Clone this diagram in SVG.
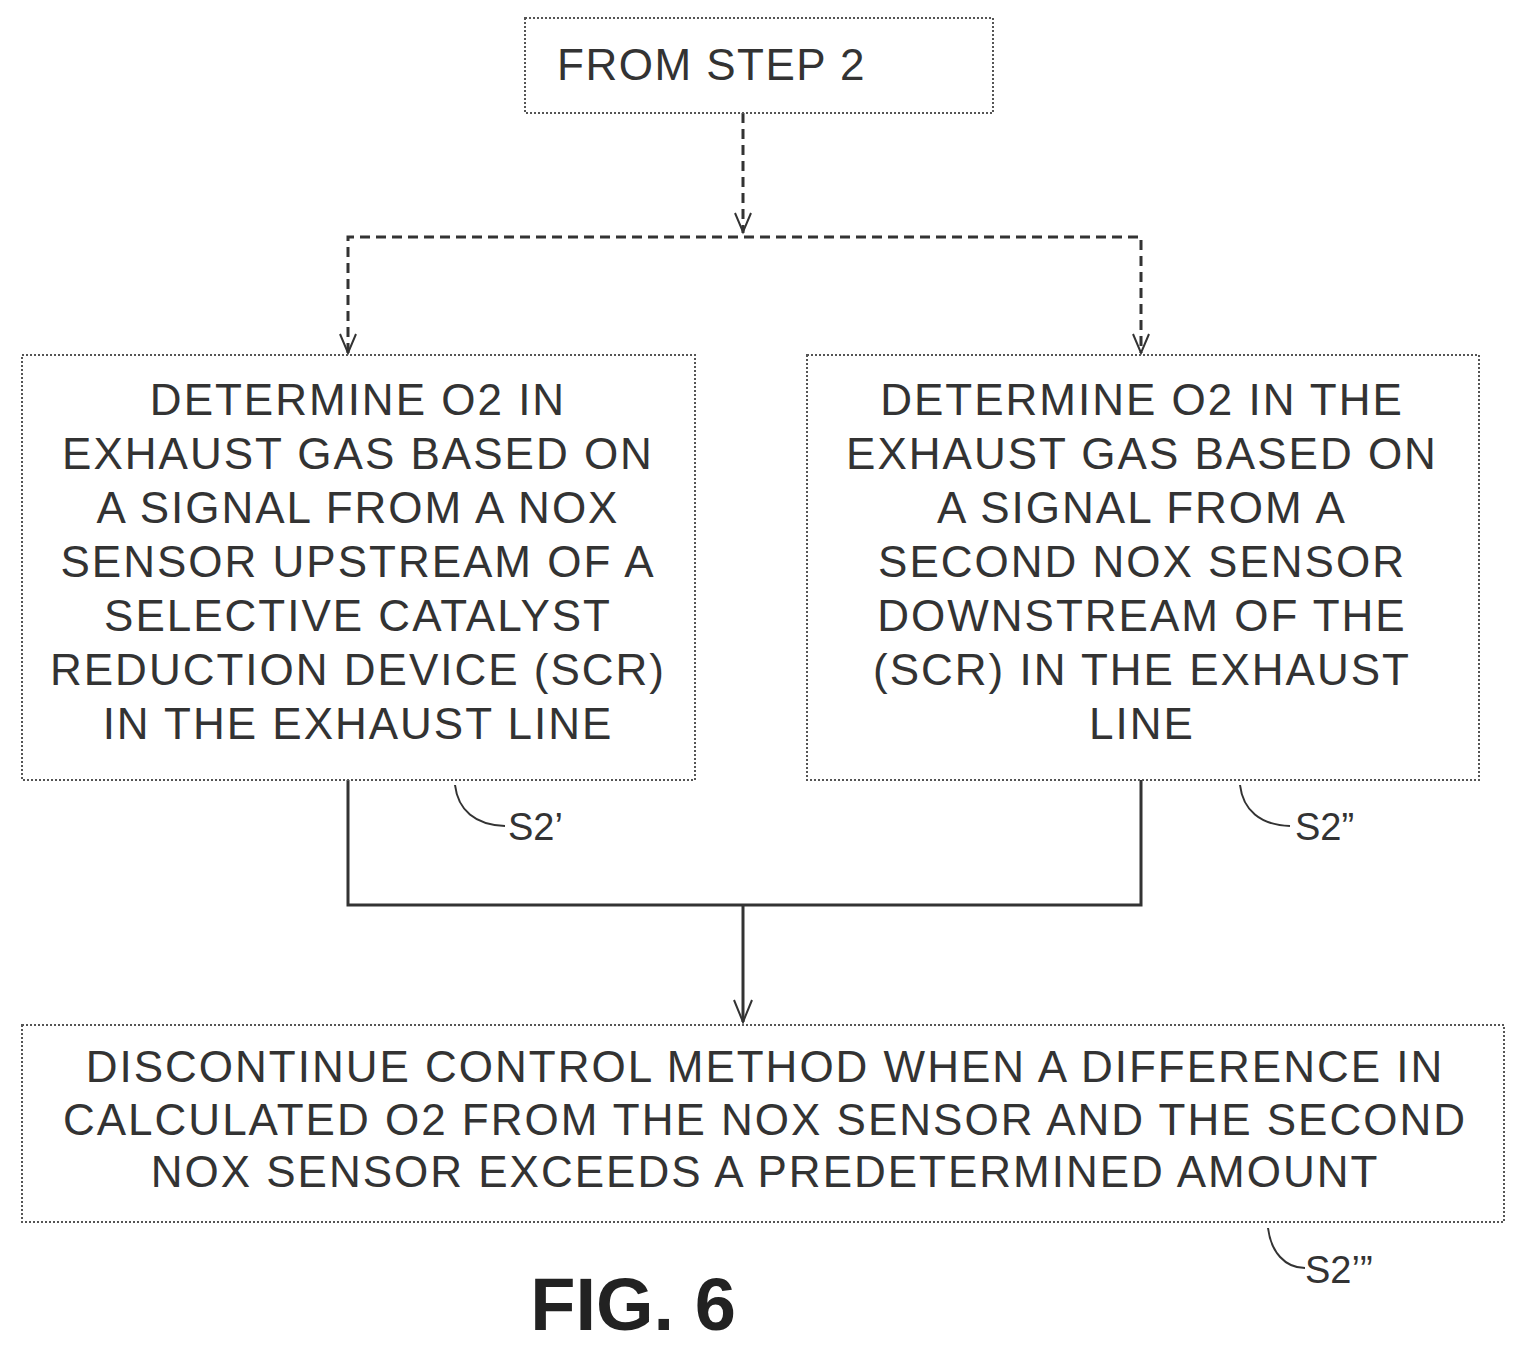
<svg xmlns="http://www.w3.org/2000/svg" width="1527" height="1358" viewBox="0 0 1527 1358">
<style>
.box{fill:#fff;stroke:#555;stroke-width:2;stroke-dasharray:2 2}
.t{font-family:"Liberation Sans",Arial,sans-serif;font-size:44px;fill:#333;text-anchor:middle;letter-spacing:2px}
.d{fill:none;stroke:#333;stroke-width:3;stroke-dasharray:10 6}
.s{fill:none;stroke:#333;stroke-width:3}
.l{fill:none;stroke:#333;stroke-width:2}
.lab{font-family:"Liberation Sans",Arial,sans-serif;font-size:38px;fill:#333}
</style>
<g id="connectors">
<path class="d" d="M743,113 V233"/>
<path d="M735,213 L743,232 L751,213" class="l"/>
<path class="d" d="M348,353 V237 H1141 V353"/>
<path d="M340,334 L348,353 L356,334" class="l"/>
<path d="M1133,334 L1141,353 L1149,334" class="l"/>
<path class="s" d="M348,780 V905 H1141 V780"/>
<path class="s" d="M743,905 V1022"/>
<path d="M734,1000 L743,1022 L752,1000" class="l"/>
</g>
<g id="n1"><rect class="box" x="525" y="18" width="468" height="95"/><text class="t" x="557" y="80" style="text-anchor:start;letter-spacing:1.5px">FROM STEP 2</text></g>
<g id="n2"><rect class="box" x="22" y="355" width="673" height="425"/>
<text class="t" x="358" y="415">DETERMINE O2 IN</text>
<text class="t" x="358" y="469">EXHAUST GAS BASED ON</text>
<text class="t" x="358" y="523">A SIGNAL FROM A NOX</text>
<text class="t" x="358" y="577">SENSOR UPSTREAM OF A</text>
<text class="t" x="358" y="631">SELECTIVE CATALYST</text>
<text class="t" x="358" y="685">REDUCTION DEVICE (SCR)</text>
<text class="t" x="358" y="739">IN THE EXHAUST LINE</text>
</g>
<g id="n3"><rect class="box" x="807" y="355" width="672" height="425"/>
<text class="t" x="1142" y="415">DETERMINE O2 IN THE</text>
<text class="t" x="1142" y="469">EXHAUST GAS BASED ON</text>
<text class="t" x="1142" y="523">A SIGNAL FROM A</text>
<text class="t" x="1142" y="577">SECOND NOX SENSOR</text>
<text class="t" x="1142" y="631">DOWNSTREAM OF THE</text>
<text class="t" x="1142" y="685">(SCR) IN THE EXHAUST</text>
<text class="t" x="1142" y="739">LINE</text>
</g>
<g id="n4"><rect class="box" x="22" y="1025" width="1482" height="197"/>
<text class="t" x="765" y="1082">DISCONTINUE CONTROL METHOD WHEN A DIFFERENCE IN</text>
<text class="t" x="765" y="1135">CALCULATED O2 FROM THE NOX SENSOR AND THE SECOND</text>
<text class="t" x="765" y="1187">NOX SENSOR EXCEEDS A PREDETERMINED AMOUNT</text>
</g>
<g id="labels">
<path class="l" d="M455,785 C458,810 475,825 505,826"/>
<text class="lab" x="508" y="840">S2’</text>
<path class="l" d="M1240,785 C1243,810 1260,825 1290,826"/>
<text class="lab" x="1295" y="840">S2”</text>
<path class="l" d="M1268,1228 C1271,1252 1285,1268 1305,1268"/>
<text class="lab" x="1305" y="1283">S2’”</text>
<text x="633" y="1330" style="font-family:'Liberation Sans',Arial,sans-serif;font-size:74px;font-weight:bold;fill:#222;text-anchor:middle">FIG. 6</text>
</g>
</svg>
